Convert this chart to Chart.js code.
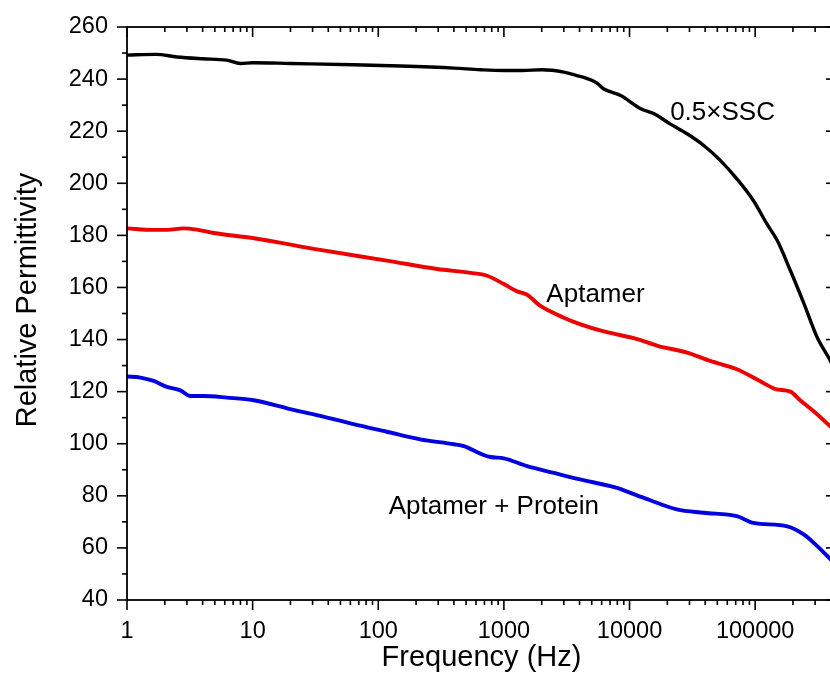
<!DOCTYPE html>
<html>
<head>
<meta charset="utf-8">
<script src="https://cdn.jsdelivr.net/npm/chart.js@4/dist/chart.umd.min.js"></script>
<style>
  html, body { margin: 0; padding: 0; background: #fff; overflow: hidden; }
  #wrap { width: 845px; height: 687px; }
</style>
</head>
<body>
<div id="wrap"><canvas id="c" width="845" height="687"></canvas></div>
<script>
// Relative permittivity spectra (frequency in Hz)
const sscFreq = [1, 1.7, 2.5, 4, 6.2, 8, 10, 20, 63, 150, 400, 650, 1000, 1400, 2000, 3000, 3700, 4600, 5500, 6200, 8500, 12300, 15700, 21000, 28700, 39000, 53000, 71500, 97000, 124000, 150000, 191000, 245000, 312000, 385000, 410000];
const sscEps  = [249.2, 249.5, 248.5, 247.8, 247.3, 246.0, 246.3, 246.0, 245.5, 245.0, 244.2, 243.6, 243.3, 243.3, 243.6, 242.7, 241.5, 240.2, 238.5, 236.3, 233.7, 228.6, 226.7, 222.8, 219.0, 214.5, 208.7, 201.7, 193.3, 184.4, 178.0, 166.4, 153.7, 140.8, 133.0, 130.5];

const aptFreq = [1, 1.6, 2.1, 2.8, 3.6, 4.9, 10, 34.5, 117, 294, 540, 735, 1000, 1275, 1530, 1940, 2970, 4030, 6240, 11500, 16700, 28700, 44000, 71500, 110000, 145000, 191000, 228000, 300000, 410000];
const aptEps  = [182.7, 182.1, 182.1, 182.7, 182.2, 180.9, 179.0, 174.4, 170.3, 167.1, 165.6, 164.5, 161.3, 158.5, 157.2, 153.0, 148.5, 145.9, 143.1, 140.2, 137.6, 135.0, 131.8, 128.6, 124.0, 121.0, 120.0, 116.7, 112.0, 106.0];

const protFreq = [1, 1.28, 1.63, 2.08, 2.66, 3.19, 4.07, 6.25, 10.2, 18.8, 34.5, 63.5, 117, 215, 400, 480, 650, 780, 1000, 1530, 2500, 4030, 7560, 13000, 23800, 39000, 71500, 97000, 180000, 245000, 312000, 410000];
const protEps  = [125.8, 125.4, 124.1, 121.8, 120.5, 118.3, 118.3, 117.7, 116.7, 113.6, 110.7, 107.5, 104.6, 101.7, 99.8, 99.1, 96.2, 94.9, 94.4, 91.4, 88.8, 86.3, 83.3, 79.2, 74.8, 73.5, 72.2, 69.6, 68.3, 65.1, 60.7, 55.0];

// Axis ticks
const xTickValues = [1, 10, 100, 1000, 10000, 100000];
const yMin = 40, yMax = 260, yStep = 20;
const xMin = 1, xMax = 440000;

// In-plot curve labels, anchored in data coordinates (frequency, permittivity at baseline)
const curveLabels = [
  { text: '0.5\u00D7SSC', f: 55000, eps: 224.4 },
  { text: 'Aptamer', f: 5360, eps: 154.6 },
  { text: 'Aptamer + Protein', f: 832, eps: 72.9 }
];

const pts = (fs, es) => fs.map((f, i) => ({ x: f, y: es[i] }));
const FONT = 'Liberation Sans, Arial, Helvetica, sans-serif';

// Box frame, inward/outward tick marks, curve labels and y title
const frameAndLabels = {
  id: 'frameAndLabels',
  afterDraw(chart) {
    const { ctx, chartArea: a, scales: { x, y } } = chart;
    const seg = (x1, y1, x2, y2) => { ctx.beginPath(); ctx.moveTo(x1, y1); ctx.lineTo(x2, y2); ctx.stroke(); };
    ctx.save();
    ctx.strokeStyle = '#000';
    ctx.lineWidth = 1.8;
    ctx.strokeRect(a.left, a.top, a.right - a.left, a.bottom - a.top);
    ctx.lineWidth = 1.6;
    for (let d = 1; d <= xMax; d *= 10) {
      for (let m = 1; m <= 9; m++) {
        const v = d * m;
        if (v > xMax) break;
        const px = x.getPixelForValue(v);
        const len = m === 1 ? 10 : 5;
        seg(px, a.bottom, px, a.bottom + len);
        seg(px, a.top, px, a.top + len);
      }
    }
    for (let v = yMin; v <= yMax; v += yStep / 2) {
      const py = y.getPixelForValue(v);
      const len = (v - yMin) % yStep === 0 ? 10 : 5;
      seg(a.left - len, py, a.left, py);
      seg(a.right - len, py, a.right, py);
    }
    ctx.fillStyle = '#000';
    ctx.font = '26px ' + FONT;
    ctx.textAlign = 'center';
    ctx.textBaseline = 'alphabetic';
    curveLabels.forEach(l => ctx.fillText(l.text, x.getPixelForValue(l.f), y.getPixelForValue(l.eps)));
    // y axis title
    ctx.translate(36, 300);
    ctx.rotate(-Math.PI / 2);
    ctx.font = '29px ' + FONT;
    ctx.fillText('Relative Permittivity', 0, 0);
    ctx.restore();
  }
};

new Chart(document.getElementById('c'), {
  type: 'line',
  data: {
    datasets: [
      { label: '0.5\u00D7SSC', data: pts(sscFreq, sscEps), borderColor: '#000000', borderWidth: 3.4 },
      { label: 'Aptamer', data: pts(aptFreq, aptEps), borderColor: '#ec0000', borderWidth: 3.9 },
      { label: 'Aptamer + Protein', data: pts(protFreq, protEps), borderColor: '#0000e0', borderWidth: 3.9 }
    ]
  },
  options: {
    responsive: false,
    animation: false,
    layout: { padding: { top: 27, right: 9, left: 0, bottom: 0 } },
    elements: { point: { radius: 0 }, line: { cubicInterpolationMode: 'monotone', borderCapStyle: 'round', borderJoinStyle: 'round' } },
    plugins: { legend: { display: false }, tooltip: { enabled: false } },
    scales: {
      x: {
        type: 'logarithmic',
        min: xMin, max: xMax,
        grid: { display: false, drawTicks: false },
        border: { display: false },
        afterBuildTicks: s => { s.ticks = xTickValues.map(v => ({ value: v, major: true })); },
        afterFit: s => { s.height = 87; s.paddingLeft = 0; s.paddingRight = 0; },
        ticks: {
          autoSkip: false, maxRotation: 0, padding: 17,
          color: '#000', font: { family: FONT, size: 23.5 },
          callback: v => String(v)
        },
        title: {
          display: true, text: 'Frequency (Hz)', color: '#000',
          font: { family: FONT, size: 29 }, padding: { top: 0, bottom: 12 }
        }
      },
      y: {
        min: yMin, max: yMax,
        grid: { display: false, drawTicks: false },
        border: { display: false },
        afterFit: s => { s.width = 127; s.paddingTop = 0; s.paddingBottom = 0; },
        ticks: {
          stepSize: yStep, padding: 19,
          color: '#000', font: { family: FONT, size: 23.5 }
        }
      }
    }
  },
  plugins: [frameAndLabels]
});
</script>
</body>
</html>
